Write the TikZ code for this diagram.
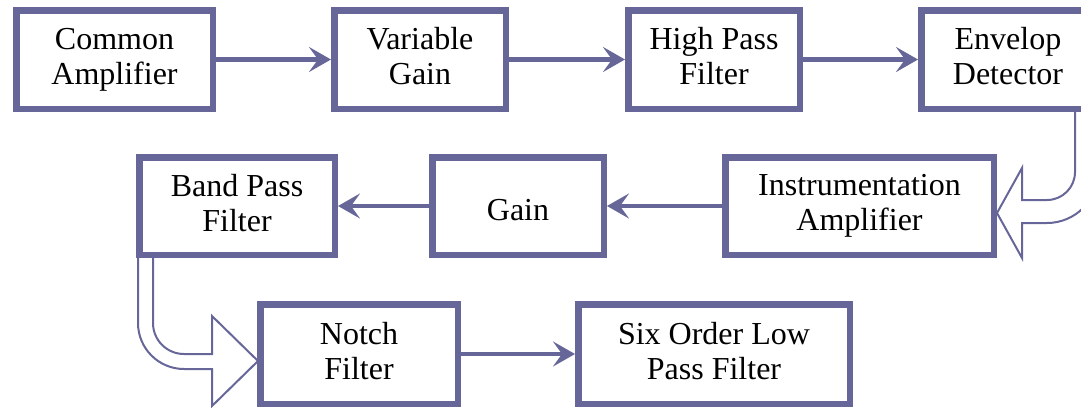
\documentclass[tikz,border=0pt]{standalone}
\usepackage{fontspec}
\setmainfont{Liberation Serif}
\usetikzlibrary{arrows.meta}
\definecolor{boxcol}{RGB}{102,102,153}
\pgfdeclarelayer{bg}
\pgfsetlayers{bg,main}
\newcommand{\topstrut}{\rule{0pt}{35pt}}
\newcommand{\botstrut}{\rule[-7pt]{0pt}{7pt}}
\begin{document}
\begin{tikzpicture}[x=1pt,y=-1pt,
  blk/.style={draw=boxcol, line width=6.5pt, fill=white, align=center, inner sep=0pt,
    font=\fontsize{32}{35}\selectfont, execute at begin node=\topstrut, execute at end node=\botstrut},
  conn/.style={draw=boxcol, line width=4.5pt, -{Stealth[length=22pt,width=25pt,inset=9pt]}},
  barrow/.style={draw=boxcol, line width=2pt, fill=white, line join=miter}
]
\useasboundingbox (0,0) rectangle (1081,407);
\clip (0,0) rectangle (1081,407);

% row 1
\node[blk, minimum width=196.5pt, minimum height=98.5pt] (ca) at (114.5,59.5) {Common\\Amplifier};
\node[blk, minimum width=171.5pt, minimum height=98.5pt] (vg) at (420,59.5) {Variable\\Gain};
\node[blk, minimum width=171.5pt, minimum height=98.5pt] (hp) at (714,59.5) {High Pass\\Filter};
\node[blk, minimum width=173.5pt, minimum height=98.5pt] (ed) at (1008,59.5) {Envelop\\Detector};
% row 2
\node[blk, minimum width=195.5pt, minimum height=97.5pt] (bp) at (237,206) {Band Pass\\Filter};
\node[blk, minimum width=171.5pt, minimum height=97.5pt] (gn) at (518,206) {Gain};
\node[blk, minimum width=268.5pt, minimum height=97.5pt] (ia) at (859.5,206) {Instrumentation\\Amplifier};
% row 3
\node[blk, minimum width=197.5pt, minimum height=99.5pt] (nf) at (359,354) {Notch\\Filter};
\node[blk, minimum width=271.5pt, minimum height=99.5pt] (sl) at (714,354) {Six Order Low\\Pass Filter};

% connectors
\draw[conn] (ca) -- (vg);
\draw[conn] (vg) -- (hp);
\draw[conn] (hp) -- (ed);
\draw[conn] (ia) -- (gn);
\draw[conn] (gn) -- (bp);
\draw[conn] (nf) -- (sl);

% block arrows
\begin{pgfonlayer}{bg}
\path[barrow] (1075,105) -- (1075,172) arc[start angle=0, end angle=-90, radius=28pt]
  -- (1022,200) -- (1022,168) -- (997,213) -- (1022,258) -- (1022,223) -- (1047,223)
  arc[start angle=-90, end angle=0, radius=51pt] -- (1098,105) -- cycle;
\path[barrow] (153,250) -- (153,323) arc[start angle=180, end angle=270, radius=31pt]
  -- (212,354) -- (212,316) -- (258,361) -- (212,406) -- (212,369) -- (184,369)
  arc[start angle=270, end angle=180, radius=46pt] -- (138,250) -- cycle;
\end{pgfonlayer}
\end{tikzpicture}
\end{document}
